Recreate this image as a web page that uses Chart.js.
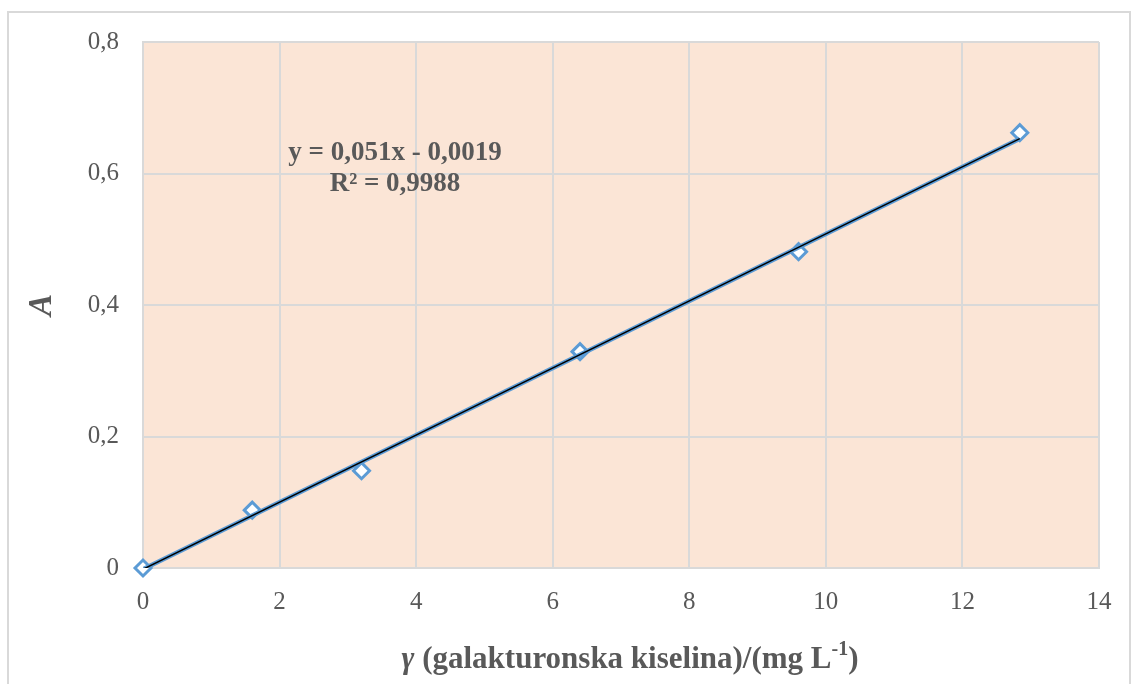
<!DOCTYPE html>
<html>
<head>
<meta charset="utf-8">
<script src="https://cdn.jsdelivr.net/npm/chart.js@4/dist/chart.umd.min.js"></script>
<style>
  html, body { margin: 0; padding: 0; background: #fff; }
  #wrap { position: relative; width: 1131px; height: 684px; }
</style>
</head>
<body>
<div id="wrap"><canvas id="graf"></canvas></div>
<script>
// dados
var concentracoes = [0, 1.6, 3.2, 6.4, 9.6, 12.84];
var absorbancias = [0, 0.088, 0.148, 0.329, 0.481, 0.662];
var xTicks = [0, 2, 4, 6, 8, 10, 12, 14];
var yTicks = [0, 0.2, 0.4, 0.6, 0.8];
var tendencia = { inclinacao: 0.051, intercepto: -0.0019 };
var textoEquacao = 'y = 0,051x - 0,0019';
var textoR2 = 'R² = 0,9988';

var corTexto = '#595959';
var corGrade = '#D9D9D9';
var fonte = '"Liberation Serif", "Times New Roman", serif';

var pontos = [];
for (var i = 0; i < concentracoes.length; i++) {
    pontos.push({ x: concentracoes[i], y: absorbancias[i] });
}
var xFim = concentracoes[concentracoes.length - 1];
var linhaTend = [
    { x: 0, y: tendencia.intercepto },
    { x: xFim, y: tendencia.inclinacao * xFim + tendencia.intercepto }
];

function virgula(v) {
    return String(v).replace('.', ',');
}

var extras = {
    id: 'extras',
    beforeDraw: function(chart) {
        var ctx = chart.ctx, a = chart.chartArea;
        ctx.save();
        ctx.fillStyle = '#FBE5D6';
        ctx.fillRect(a.left, a.top, a.right - a.left, a.bottom - a.top);
        ctx.strokeStyle = corGrade;
        ctx.lineWidth = 2;
        ctx.strokeRect(8, 12, 1122, 700);
        ctx.restore();
    },
    afterDraw: function(chart) {
        var ctx = chart.ctx;
        ctx.save();
        ctx.fillStyle = corTexto;
        ctx.textBaseline = 'middle';

        // equação da reta
        ctx.font = 'bold 27px ' + fonte;
        ctx.textAlign = 'center';
        ctx.fillText(textoEquacao, 395, 153);
        ctx.fillText(textoR2, 395, 184);

        // título do eixo y
        ctx.save();
        ctx.translate(42, 305);
        ctx.rotate(-Math.PI / 2);
        ctx.font = 'italic bold 33px ' + fonte;
        ctx.textAlign = 'center';
        ctx.fillText('A', 0, 0);
        ctx.restore();

        // título do eixo x com expoente
        var partes = [
            { t: 'γ', f: 'italic bold 31px ' + fonte, dy: 0 },
            { t: ' (galakturonska kiselina)/(mg L', f: 'bold 31px ' + fonte, dy: 0 },
            { t: '-1', f: 'bold 20px ' + fonte, dy: -10 },
            { t: ')', f: 'bold 31px ' + fonte, dy: 0 }
        ];
        var total = 0;
        for (var i = 0; i < partes.length; i++) {
            ctx.font = partes[i].f;
            partes[i].w = ctx.measureText(partes[i].t).width;
            total += partes[i].w;
        }
        var x = 630 - total / 2;
        ctx.textAlign = 'left';
        for (var i = 0; i < partes.length; i++) {
            ctx.font = partes[i].f;
            ctx.fillText(partes[i].t, x, 660 + partes[i].dy);
            x += partes[i].w;
        }
        ctx.restore();
    }
};

new Chart(document.getElementById('graf'), {
    type: 'scatter',
    data: {
        datasets: [
            {
                label: 'tendência preta',
                type: 'line',
                data: linhaTend,
                borderColor: '#000000',
                borderWidth: 1.5,
                pointRadius: 0,
                fill: false,
                order: 0
            },
            {
                label: 'tendência azul',
                type: 'line',
                data: linhaTend,
                borderColor: '#5B9BD5',
                borderWidth: 4.5,
                pointRadius: 0,
                fill: false,
                order: 1
            },
            {
                label: 'A',
                data: pontos,
                clip: false,
                pointStyle: 'rectRot',
                pointRadius: 8,
                pointHoverRadius: 8,
                pointBorderWidth: 3,
                pointBorderColor: '#5B9BD5',
                pointBackgroundColor: '#FFFFFF',
                order: 2
            }
        ]
    },
    options: {
        responsive: true,
        maintainAspectRatio: false,
        animation: false,
        layout: { padding: { left: 0, top: 42, right: 32, bottom: 0 } },
        plugins: {
            legend: { display: false },
            tooltip: { enabled: false }
        },
        scales: {
            x: {
                type: 'linear',
                min: 0, max: 14,
                afterBuildTicks: function(ax) { ax.ticks = xTicks.map(function(v) { return { value: v }; }); },
                afterFit: function(ax) { ax.height = 116; },
                grid: { color: corGrade, lineWidth: 2, drawTicks: false },
                border: { color: corGrade, width: 2 },
                ticks: {
                    color: corTexto,
                    padding: 19,
                    font: { family: fonte, size: 25 },
                    callback: function(v) { return virgula(v); }
                }
            },
            y: {
                type: 'linear',
                min: 0, max: 0.8,
                afterBuildTicks: function(ax) { ax.ticks = yTicks.map(function(v) { return { value: v }; }); },
                afterFit: function(ax) { ax.width = 143; },
                grid: { color: corGrade, lineWidth: 2, drawTicks: false },
                border: { color: corGrade, width: 2 },
                ticks: {
                    color: corTexto,
                    padding: 24,
                    font: { family: fonte, size: 25 },
                    callback: function(v) { return virgula(Math.round(v * 10) / 10); }
                }
            }
        }
    },
    plugins: [extras]
});
</script>
</body>
</html>
